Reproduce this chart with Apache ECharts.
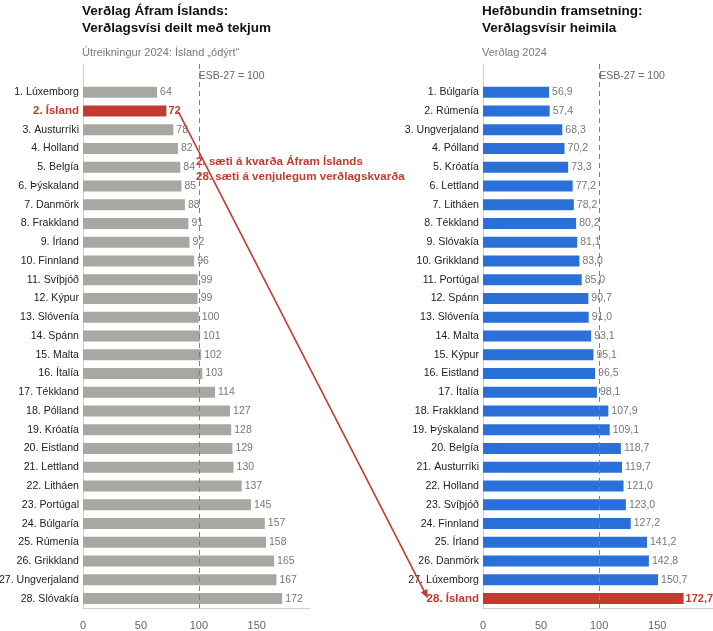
<!DOCTYPE html>
<html>
<head>
<meta charset="utf-8">
<script src="https://cdn.jsdelivr.net/npm/echarts@6/dist/echarts.min.js"></script>
<style>
  html, body { margin: 0; padding: 0; background: #fff; }
  #main { width: 713px; height: 631px; }
</style>
</head>
<body>
<div id="main"></div>
<script>
// vinstri: Áfram Ísland kvarði
var leftNames = ['1. Lúxemborg', '2. Ísland', '3. Austurríki', '4. Holland', '5. Belgía', '6. Þýskaland', '7. Danmörk',
  '8. Frakkland', '9. Írland', '10. Finnland', '11. Svíþjóð', '12. Kýpur', '13. Slóvenía', '14. Spánn', '15. Malta',
  '16. Ítalía', '17. Tékkland', '18. Pólland', '19. Króatía', '20. Eistland', '21. Lettland', '22. Litháen',
  '23. Portúgal', '24. Búlgaría', '25. Rúmenía', '26. Grikkland', '27. Ungverjaland', '28. Slóvakía'];
var leftValues = [64, 72, 78, 82, 84, 85, 88, 91, 92, 96, 99, 99, 100, 101, 102, 103, 114, 127, 128, 129, 130, 137,
  145, 157, 158, 165, 167, 172];

// hægri: hefðbundinn verðlagskvarði
var rightNames = ['1. Búlgaría', '2. Rúmenía', '3. Ungverjaland', '4. Pólland', '5. Króatía', '6. Lettland', '7. Litháen',
  '8. Tékkland', '9. Slóvakía', '10. Grikkland', '11. Portúgal', '12. Spánn', '13. Slóvenía', '14. Malta', '15. Kýpur',
  '16. Eistland', '17. Ítalía', '18. Frakkland', '19. Þýskaland', '20. Belgía', '21. Austurríki', '22. Holland',
  '23. Svíþjóð', '24. Finnland', '25. Írland', '26. Danmörk', '27. Lúxemborg', '28. Ísland'];
var rightValues = [56.9, 57.4, 68.3, 70.2, 73.3, 77.2, 78.2, 80.2, 81.1, 83.0, 85.0, 90.7, 91.0, 93.1, 95.1, 96.5,
  98.1, 107.9, 109.1, 118.7, 119.7, 121.0, 123.0, 127.2, 141.2, 142.8, 150.7, 172.7];

var xTicks = [0, 50, 100, 150];
var refValue = 100;

var FONT = 'Liberation Sans, Arial, sans-serif';
var RED = '#c23b2e';
var GRAY = '#a9a7a1';
var BLUE = '#2b70d8';

var chart = echarts.init(document.getElementById('main'));

function isIceland(name) { return /Ísland$/.test(name); }

function makeData(names, values, color) {
  var out = ['-'];  // tómur reitur efst fyrir ESB-27 merkið
  for (var i = 0; i < values.length; i++) {
    var hl = isIceland(names[i]);
    out.push({
      value: values[i],
      itemStyle: { color: hl ? RED : color },
      label: hl ? { color: RED, fontWeight: 'bold', fontSize: 11, distance: 2 } : {}
    });
  }
  return out;
}

function yAxisFor(grid, names) {
  return {
    gridIndex: grid, type: 'category', inverse: true, data: [''].concat(names),
    axisLine: { show: true, lineStyle: { color: '#cfcfcf', width: 1 } },
    axisTick: { show: false },
    axisLabel: {
      margin: 4, fontSize: 10.6, color: '#222', fontFamily: FONT,
      formatter: function (v) { return isIceland(v) ? '{hl|' + v + '}' : v; },
      rich: { hl: { color: RED, fontWeight: 'bold', fontSize: 11.5, fontFamily: FONT } }
    }
  };
}

function xAxisFor(grid, max) {
  return {
    gridIndex: grid, type: 'value', min: 0, max: max, interval: 50,
    splitLine: { show: false },
    axisLine: { show: true, lineStyle: { color: '#cfcfcf' } },
    axisTick: { show: false },
    axisLabel: {
      margin: 12, fontSize: 11, color: '#666', fontFamily: FONT, showMaxLabel: false,
      formatter: function (v) { return xTicks.indexOf(v) >= 0 ? String(v) : ''; }
    }
  };
}

function seriesFor(grid, names, values, color, fmt) {
  return {
    type: 'bar', xAxisIndex: grid, yAxisIndex: grid,
    data: makeData(names, values, color),
    barWidth: 11,
    label: {
      show: true, position: 'right', distance: 3, fontSize: 10.5, color: '#777', fontFamily: FONT,
      formatter: function (p) { return fmt(p.value); }
    },
    markLine: {
      silent: true, symbol: 'none',
      label: { show: false },
      lineStyle: { color: '#808080', type: [5, 4], width: 1 },
      data: [{ xAxis: refValue }]
    }
  };
}

var titleStyle = { fontSize: 13.5, fontWeight: 'bold', color: '#111', fontFamily: FONT, lineHeight: 17 };
var subStyle = { fontSize: 11, fontWeight: 'normal', color: '#777', fontFamily: FONT };

option = {
  animation: false,
  title: [
    { text: 'Verðlag Áfram Íslands:\nVerðlagsvísi deilt með tekjum', left: 77, top: -2, textStyle: titleStyle },
    { text: 'Útreikningur 2024: Ísland „ódýrt“', left: 77, top: 42, textStyle: subStyle },
    { text: 'Hefðbundin framsetning:\nVerðlagsvísir heimila', left: 477, top: -2, textStyle: titleStyle },
    { text: 'Verðlag 2024', left: 477, top: 42, textStyle: subStyle }
  ],
  grid: [
    { left: 83, top: 64, width: 227, height: 544, outerBoundsMode: 'none' },
    { left: 483, top: 64, width: 230, height: 544, outerBoundsMode: 'none' }
  ],
  xAxis: [xAxisFor(0, 196), xAxisFor(1, 198)],
  yAxis: [yAxisFor(0, leftNames), yAxisFor(1, rightNames)],
  series: [
    seriesFor(0, leftNames, leftValues, GRAY, function (v) { return String(v); }),
    seriesFor(1, rightNames, rightValues, BLUE, function (v) { return v.toFixed(1).replace('.', ','); })
  ]
};

chart.setOption(option);

// ESB-27 merki og ör, staðsett út frá ásunum
var g0 = chart.convertToPixel({ gridIndex: 0 }, [refValue, 0]);
var g1 = chart.convertToPixel({ gridIndex: 1 }, [refValue, 0]);
var iL = leftNames.findIndex(isIceland) + 1;
var iR = rightNames.findIndex(isIceland) + 1;
var a = chart.convertToPixel({ gridIndex: 0 }, [leftValues[iL - 1], iL]);
var b = chart.convertToPixel({ gridIndex: 1 }, [0, iR]);
var x1 = a[0] + 12, y1 = a[1] + 1;
var x2 = b[0] - 55, y2 = b[1];
var ang = Math.atan2(y2 - y1, x2 - x1);
var hL = 9, hW = 3.5;
var bx = x2 - hL * Math.cos(ang), by = y2 - hL * Math.sin(ang);

chart.setOption({
  graphic: [
    { type: 'text', x: g0[0], y: g0[1] + 3, style: { text: 'ESB-27 = 100', fill: '#666', font: '10.5px ' + FONT, verticalAlign: 'middle' } },
    { type: 'text', x: g1[0], y: g1[1] + 3, style: { text: 'ESB-27 = 100', fill: '#666', font: '10.5px ' + FONT, verticalAlign: 'middle' } },
    { type: 'text', x: 196, y: 154, z: 10,
      style: { text: '2. sæti á kvarða Áfram Íslands\n28. sæti á venjulegum verðlagskvarða', fill: RED,
        font: 'bold 11.6px ' + FONT, lineHeight: 15 } },
    { type: 'line', z: 5, shape: { x1: x1, y1: y1, x2: bx, y2: by }, style: { stroke: RED, lineWidth: 1.6 } },
    { type: 'polygon', z: 5, shape: { points: [
        [x2, y2],
        [bx + hW * Math.sin(ang), by - hW * Math.cos(ang)],
        [bx - hW * Math.sin(ang), by + hW * Math.cos(ang)]
      ] }, style: { fill: RED } }
  ]
});
</script>
</body>
</html>
